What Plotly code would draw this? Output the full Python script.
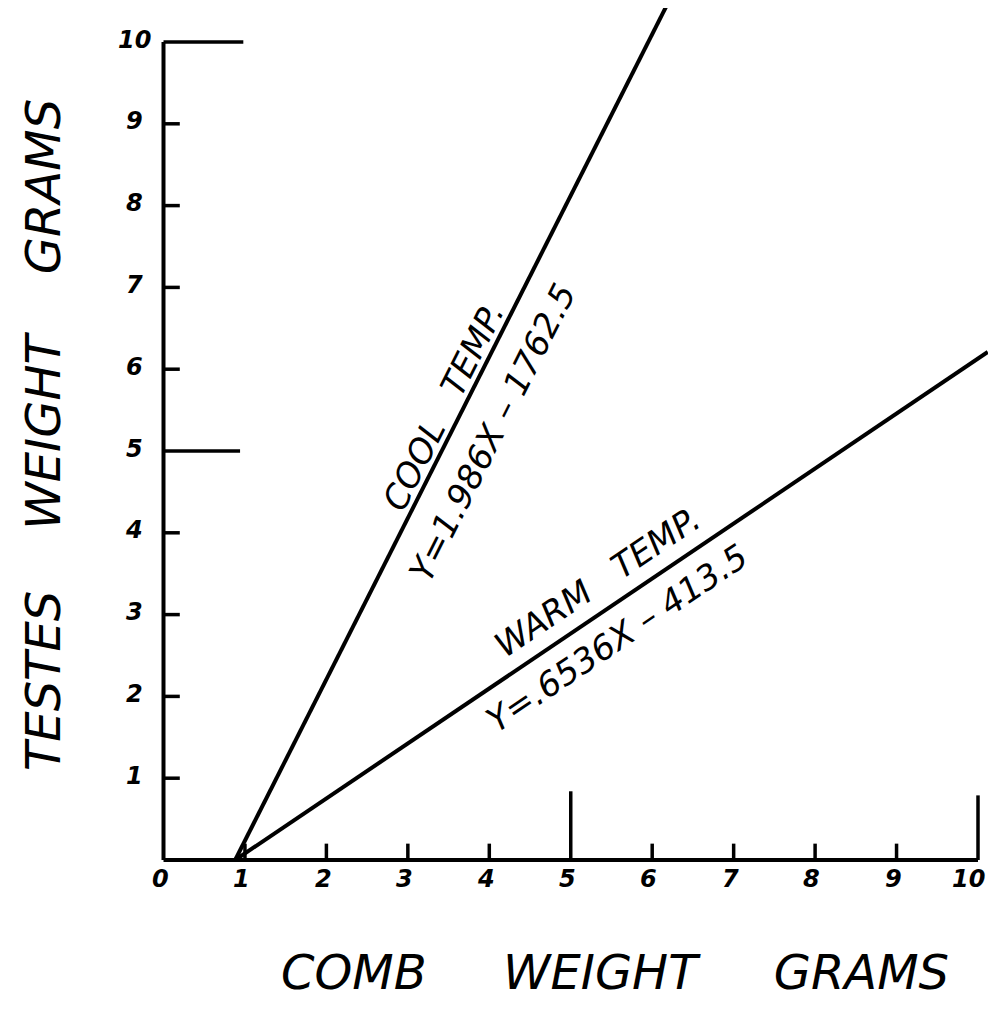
import plotly.graph_objects as go

# ---- data ----
cool_x = [0.88, 6.18]
cool_y = [0.0, 10.45]
warm_x = [0.88, 10.12]
warm_y = [0.0, 6.21]

x_tick_vals = [0, 1, 2, 3, 4, 5, 6, 7, 8, 9, 10]
x_tick_text = ["0", "1", "2", "3", "4", "5", "6", "7", "8", "9", "10"]
y_tick_vals = [1, 2, 3, 4, 5, 6, 7, 8, 9, 10]
y_tick_text = ["1", "2", "3", "4", "5", "6", "7", "8", "9", "10"]

cool_label = "COOL   TEMP."
cool_eq = "Y=1.986X – 1762.5"
warm_label = "WARM   TEMP."
warm_eq = "Y=.6536X – 413.5"
x_title = "COMB     WEIGHT     GRAMS"
y_title = "TESTES    WEIGHT    GRAMS"

# ---- geometry (pixel mapping; page body has an 8px margin) ----
OFF = 8
W, H = 980, 1006
X0PX, XSC = 163.5, 81.45
Y0PX, YSC = 860.0, 81.8
xr = [-(X0PX - OFF) / XSC, (W + OFF - X0PX) / XSC]
yr = [(Y0PX - (H + OFF)) / YSC, (Y0PX - OFF) / YSC]

def px2x(p):
    return (p - X0PX) / XSC

def px2y(p):
    return (Y0PX - p) / YSC

LW = 4
INK = "black"
FONT = "DejaVu Sans"

fig = go.Figure()

# axes lines
fig.add_trace(go.Scatter(x=[0, 10], y=[0, 0], mode="lines",
                         line=dict(color=INK, width=LW), hoverinfo="skip"))
fig.add_trace(go.Scatter(x=[0, 0], y=[0, 10], mode="lines",
                         line=dict(color=INK, width=LW), hoverinfo="skip"))

# ticks (inward; longer at 5 and 10)
tx, ty = [], []
for v in x_tick_vals[1:]:
    ln = 0.2
    if v == 5:
        ln = 0.84
    elif v == 10:
        ln = 0.79
    tx += [v, v, None]
    ty += [0, ln, None]
for v in y_tick_vals:
    ln = 0.2
    if v == 5:
        ln = 0.94
    elif v == 10:
        ln = 0.98
    tx += [0, ln, None]
    ty += [v, v, None]
fig.add_trace(go.Scatter(x=tx, y=ty, mode="lines",
                         line=dict(color=INK, width=3.5), hoverinfo="skip"))

# regression lines
fig.add_trace(go.Scatter(x=cool_x, y=cool_y, mode="lines", name="Cool temp.",
                         line=dict(color=INK, width=LW)))
fig.add_trace(go.Scatter(x=warm_x, y=warm_y, mode="lines", name="Warm temp.",
                         line=dict(color=INK, width=LW)))

tick_font = dict(family=FONT, size=24, color=INK, style="italic", weight="bold")
for v, t in zip(x_tick_vals, x_tick_text):
    shift = -0.04 if v < 10 else -0.12
    fig.add_annotation(x=v + shift, y=px2y(879), text=t, showarrow=False,
                       xanchor="center", yanchor="middle", font=tick_font)
for v, t in zip(y_tick_vals, y_tick_text):
    fig.add_annotation(x=px2x(134), y=v + 0.03, text=t, showarrow=False,
                       xanchor="center", yanchor="middle", font=tick_font)

lab_font = dict(family=FONT, size=34, color=INK, style="italic")
fig.add_annotation(x=px2x(443), y=px2y(407), text=cool_label, showarrow=False,
                   textangle=-63.3, xanchor="center", yanchor="middle", font=lab_font)
fig.add_annotation(x=px2x(492), y=px2y(433), text=cool_eq, showarrow=False,
                   textangle=-63.3, xanchor="center", yanchor="middle", font=lab_font)
fig.add_annotation(x=px2x(597), y=px2y(582), text=warm_label, showarrow=False,
                   textangle=-34.0, xanchor="center", yanchor="middle", font=lab_font)
fig.add_annotation(x=px2x(617), y=px2y(638), text=warm_eq, showarrow=False,
                   textangle=-34.0, xanchor="center", yanchor="middle", font=lab_font)

title_font = dict(family=FONT, size=48, color=INK, style="italic")
fig.add_annotation(x=px2x(615), y=px2y(972), text=x_title, showarrow=False,
                   xanchor="center", yanchor="middle", font=title_font)
fig.add_annotation(x=px2x(43), y=px2y(435), text=y_title, showarrow=False,
                   textangle=-90, xanchor="center", yanchor="middle", font=title_font)

fig.update_layout(
    width=W, height=H,
    margin=dict(l=0, r=0, t=0, b=0),
    paper_bgcolor="white", plot_bgcolor="white",
    showlegend=False,
    xaxis=dict(range=xr, visible=False, fixedrange=True),
    yaxis=dict(range=yr, visible=False, fixedrange=True),
)

fig.write_html("out.html")
